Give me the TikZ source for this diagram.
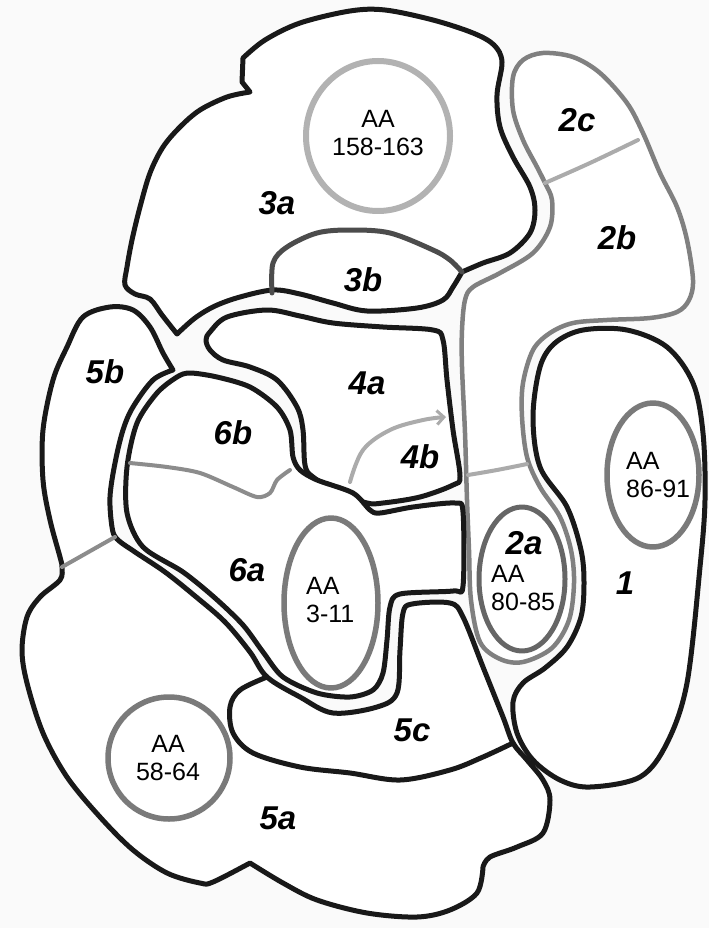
\documentclass[tikz,border=0pt]{standalone}
\usepackage{fontspec}
\setmainfont{Liberation Sans}
\usetikzlibrary{arrows.meta}
\begin{document}
\begin{tikzpicture}[x=1pt,y=-1pt,line join=round,line cap=round,
  blk/.style={draw=black!90,line width=5pt,fill=white},
  lgline/.style={draw=black!33,line width=4pt},
  ring/.style={draw=black!52,line width=5.5pt},
  lbl/.style={font=\fontsize{33}{33}\selectfont\bfseries\itshape,inner sep=0pt},
  aa/.style={font=\fontsize{25}{28}\selectfont,inner sep=0pt}]
\useasboundingbox (0,0) rectangle (709,928);
\fill[black!2] (0,0) rectangle (709,928);

% ---- region 3a (with 3b bottom)
\path[blk] plot[smooth,tension=0.55] coordinates {(250,92) (227,97) (200,110) (180,127) (163,147) (150,173) (140,207) (132,240) (127,267) (125,285) (135,294) (150,299) (162,315) (177,334)}
  -- plot[smooth,tension=0.55] coordinates {(177,334) (195,318) (215,306) (240,297) (273,290) (300,294) (333,303) (367,311) (417,308) (443,300) (453,287) (462,272)}
  -- plot[smooth,tension=0.55] coordinates {(462,272) (483,263) (510,253) (530,233) (535,210) (530,187) (513,157) (500,127) (497,95) (502,62) (494,45) (473,33) (433,20) (385,10) (350,11) (300,23) (265,40) (243,58)}
  -- (242,82) -- cycle;
% 3b top
\draw[draw=black!70,line width=5pt] plot[smooth,tension=0.55] coordinates {(272,293) (273,263) (287,247) (317,233) (350,230) (390,233) (433,250) (450,260) (462,272)};
% AA 158-163
\draw[draw=black!30,line width=6pt] (378,136) ellipse [x radius=72,y radius=75];

% ---- region 2 (2a,2b,2c)
\path[draw=black!50,line width=4.5pt,fill=white] plot[smooth cycle,tension=0.55] coordinates {(543,53) (573,57) (600,73) (627,103) (643,133) (660,173) (677,207) (687,240) (693,280) (689,300) (677,312) (650,318) (607,320) (573,323) (550,333) (533,350) (523,383) (522,417) (527,457) (540,487) (560,517) (571,550) (574,583) (569,620) (552,648) (523,662) (500,659) (480,642) (471,600) (469,550) (467,500) (465,433) (462,367) (462,330) (465,300) (473,287) (500,273) (533,253) (550,227) (552,200) (545,183) (537,167) (523,140) (513,110) (513,77) (523,60)};
\draw[lgline] plot[smooth,tension=0.6] coordinates {(545,183) (590,163) (638,140)};
\draw[lgline] plot[smooth,tension=0.6] coordinates {(468,475) (497,470) (527,464)};
\draw[draw=black!60,line width=5pt] (522,579) ellipse [x radius=43,y radius=72];

% ---- region 1
\path[blk] plot[smooth cycle,tension=0.55] coordinates {(583,330) (627,330) (667,347) (693,383) (703,433) (705,500) (700,567) (687,683) (667,743) (640,777) (590,787) (560,780) (533,760) (517,733) (513,702) (523,683) (545,668) (567,647) (581,617) (584,583) (581,550) (567,507) (540,467) (533,417) (540,367) (555,343)};
\draw[ring] (653,475) ellipse [x radius=46,y radius=72];

% ---- region 5 (5a,5b,5c)
\path[blk] plot[smooth,tension=0.55] coordinates {(173,370) (153,380) (133,407) (123,430) (115,463) (110,497) (112,527) (117,539) (135,552) (165,572) (195,596) (225,622) (250,652) (267,677) (300,697) (333,713) (377,707) (397,693) (400,650) (403,613) (412,604) (450,603) (463,617) (483,667) (503,717) (513,743) (527,760) (543,780) (550,800) (543,833) (517,847) (490,857) (483,867)}
  -- plot[smooth,tension=0.55] coordinates {(483,867) (477,893) (450,910) (417,917) (367,913) (317,900) (283,883) (250,863)}
  -- plot[smooth,tension=0.55] coordinates {(250,863) (213,882) (200,883) (167,873) (133,850) (100,817) (67,777) (43,733) (27,683) (22,650) (27,617) (40,597) (60,580) (62,567) (60,557) (50,520) (43,480) (43,430) (53,380) (67,347) (83,317) (110,307) (133,310) (150,327) (163,353) (173,370)} -- cycle;
\draw[blk,fill=none] plot[smooth,tension=0.55] coordinates {(267,677) (240,690) (230,707) (233,733) (253,753) (300,767) (350,773) (400,780) (450,770) (483,757) (513,743)};
\draw[draw=black!45,line width=4pt] (62,567) -- (115,537);
\draw[ring] (169,758) circle [radius=61];

% ---- region 4 (4a,4b)
\path[blk] plot[smooth cycle,tension=0.55] coordinates {(210,332) (227,317) (267,310) (300,316) (333,323) (383,327) (433,330) (443,340) (447,380) (453,430) (460,476) (453,485) (420,497) (383,503) (367,503) (340,493) (313,477) (305,465) (303,430) (297,407) (277,380) (250,367) (223,360) (210,350) (206,340)};
\draw[lgline,-{Straight Barb[length=7pt,width=14pt,line width=3pt]}] plot[smooth,tension=0.6] coordinates {(350,482) (363,450) (390,430) (423,420) (446,417)};

% ---- region 6 (6a,6b)
\path[blk] plot[smooth cycle,tension=0.5] coordinates {(190,373) (217,377) (250,387) (277,407) (290,430) (293,457) (300,470) (317,480) (353,493) (370,510) (380,513) (413,507) (455,503) (463,512) (463,586) (453,591) (400,594) (390,607) (387,640) (383,673) (373,690) (350,697) (317,693) (283,677) (263,652) (243,625) (215,598) (183,572) (143,547) (127,513) (127,467) (137,423) (157,393) (177,377)};
\draw[draw=black!45,line width=4pt] plot[smooth,tension=0.5] coordinates {(130,463) (167,467) (200,473) (233,487) (257,497) (270,493) (277,480) (290,470)};
\draw[ring] (331,603) ellipse [x radius=47,y radius=85];

% ---- labels
\node[lbl] (l2c) at (577,120) {2c};
\node[lbl] (l2b) at (617,238) {2b};
\node[lbl] (l3a) at (277,203) {3a};
\node[lbl] (l3b) at (363,280) {3b};
\node[lbl] (l5b) at (105,372) {5b};
\node[lbl] (l4a) at (367,383) {4a};
\node[lbl] (l6b) at (233,433) {6b};
\node[lbl] (l4b) at (420,457) {4b};
\node[lbl] (l2a) at (524,543) {2a};
\node[lbl] (l1) at (625,583) {1};
\node[lbl] (l6a) at (247,570) {6a};
\node[lbl] (l5c) at (412,730) {5c};
\node[lbl] (l5a) at (278,818) {5a};

\node[aa,align=center] (t158) at (378,133) {AA\\158-163};
\node[aa,align=left,anchor=west] (t86) at (626,475) {AA\\86-91};
\node[aa,align=left,anchor=west] (t80) at (491,588) {AA\\80-85};
\node[aa,align=left,anchor=west] (t3) at (306,600) {AA\\3-11};
\node[aa,align=center] (t58) at (168,758) {AA\\58-64};
\end{tikzpicture}
\end{document}
